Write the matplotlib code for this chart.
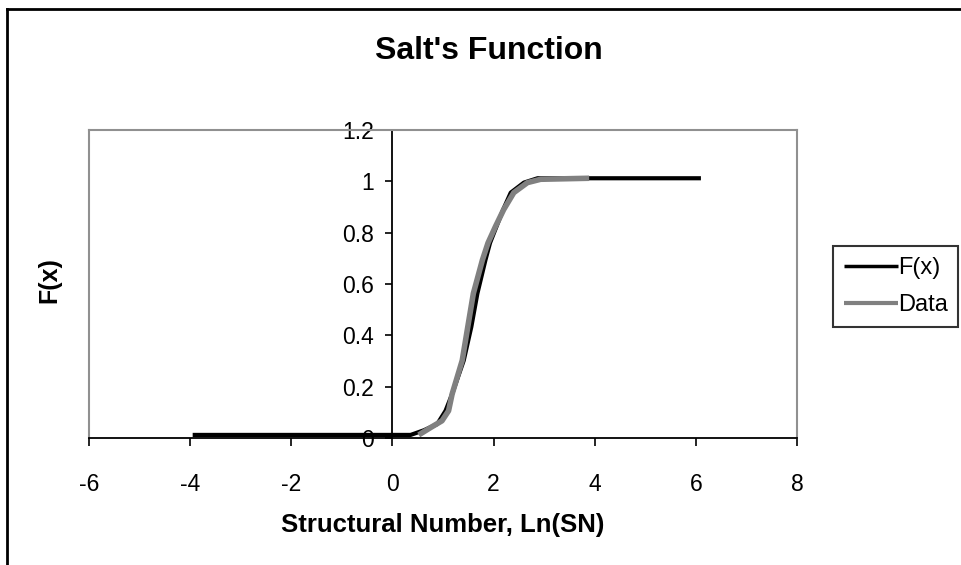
import matplotlib
matplotlib.use("Agg")
import matplotlib.pyplot as plt
from matplotlib.lines import Line2D

plt.rcParams['font.family'] = ['Liberation Sans', 'DejaVu Sans']
plt.rcParams['axes.unicode_minus'] = False

# F(x) curve (black)
fx_x = [-3.95, 0.36, 0.62, 0.885, 1.05, 1.18, 1.41, 1.56, 1.68, 1.84, 1.93, 2.06, 2.19, 2.34, 2.60, 2.87, 6.10]
fx_y = [0.012, 0.012, 0.03, 0.054, 0.106, 0.171, 0.302, 0.433, 0.563, 0.694, 0.76, 0.825, 0.89, 0.956, 0.995, 1.012, 1.012]

# Data curve (gray)
data_x = [0.52, 0.75, 0.98, 1.11, 1.18, 1.38, 1.49, 1.60, 1.78, 1.89, 2.04, 2.20, 2.40, 2.67, 2.93, 3.89]
data_y = [0.012, 0.04, 0.067, 0.106, 0.171, 0.302, 0.433, 0.563, 0.694, 0.76, 0.825, 0.89, 0.956, 0.995, 1.008, 1.012]

xticks = [-6, -4, -2, 0, 2, 4, 6, 8]
xtick_labels = ["-6", "-4", "-2", "0", "2", "4", "6", "8"]
yticks = [0, 0.2, 0.4, 0.6, 0.8, 1.0, 1.2]
ytick_labels = ["0", "0.2", "0.4", "0.6", "0.8", "1", "1.2"]

W, H = 961, 565
fig = plt.figure(figsize=(W / 100, H / 100), dpi=100)
ax = fig.add_axes([89 / W, 1 - 438 / H, (797 - 89) / W, (438 - 130) / H])

ax.plot(fx_x, fx_y, color="black", lw=3, label="F(x)", solid_capstyle="butt", solid_joinstyle="round")
ax.plot(data_x, data_y, color="#808080", lw=4, label="Data", solid_capstyle="butt", solid_joinstyle="round")

ax.set_xlim(-6, 8)
ax.set_ylim(0, 1.2)

# y axis crosses at x=0, plot area frame in gray
ax.spines['left'].set_position(('data', 0))
ax.spines['left'].set_color("black")
ax.spines['left'].set_linewidth(1.3)
ax.spines['bottom'].set_color("black")
ax.spines['bottom'].set_linewidth(1.3)
for s in ['top', 'right']:
    ax.spines[s].set_color("#909090")
    ax.spines[s].set_linewidth(1.5)
ax.plot([0, 0], [0, 1], color="#909090", lw=1.5, transform=ax.transAxes, clip_on=False, zorder=0)

ax.set_xticks(xticks)
ax.set_xticklabels(xtick_labels)
ax.set_yticks(yticks)
ax.set_yticklabels(ytick_labels)
ax.tick_params(axis='x', direction='out', length=6, width=1.2, pad=19, labelsize=16.5)
ax.tick_params(axis='y', direction='out', length=5, width=1.2, pad=8, labelsize=16.5)

fig.text(489 / W, 1 - 59 / H, "Salt's Function", ha="center", va="baseline", fontsize=23, weight="bold")
fig.text(443 / W, 1 - 532 / H, "Structural Number, Ln(SN)", ha="center", va="baseline", fontsize=18.5, weight="bold")
fig.text(49 / W, 1 - 280 / H, "F(x)", ha="center", va="center", rotation=90, fontsize=18, weight="bold")

leg = ax.legend(loc="lower left", bbox_to_anchor=(833 / W, 1 - 327 / H), bbox_transform=fig.transFigure,
                frameon=True, fancybox=False, fontsize=17, handlelength=2.3, handletextpad=0.0,
                borderpad=0.45, labelspacing=0.65, borderaxespad=0)
leg.get_frame().set_edgecolor("black")
leg.get_frame().set_linewidth(1.5)
leg.get_lines()[0].set_linewidth(2.5)
leg.get_lines()[1].set_linewidth(3)

# chart border
fig.add_artist(Line2D([6.5 / W, 1], [1 - 8.5 / H, 1 - 8.5 / H], color="black", lw=2, transform=fig.transFigure))
fig.add_artist(Line2D([6.5 / W, 6.5 / W], [0, 1 - 8.5 / H], color="black", lw=2, transform=fig.transFigure))

fig.savefig("out.png", dpi=100)
